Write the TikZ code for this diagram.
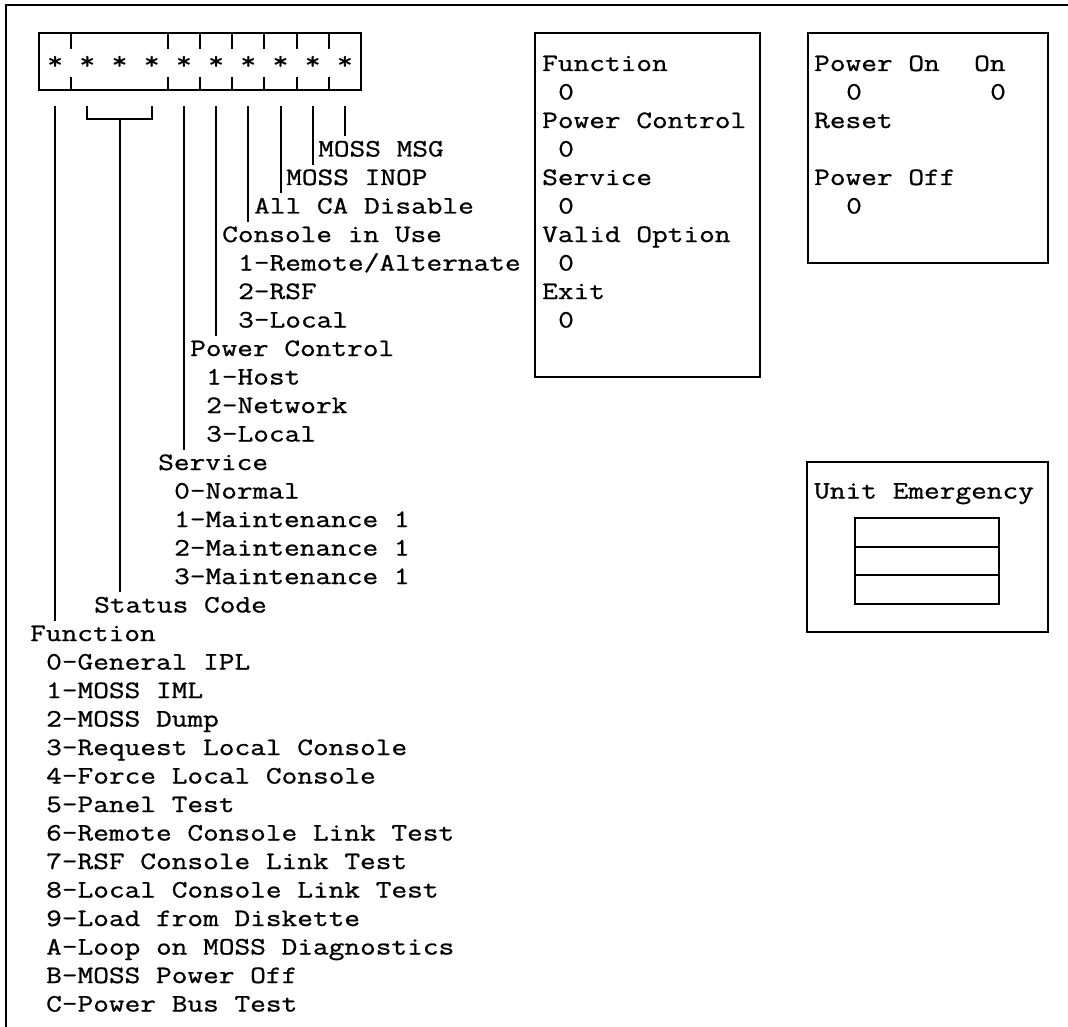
\documentclass[tikz,border=0pt]{standalone}
\usepackage{fontspec}
\newfontfamily\panelfont{Latin Modern Mono}[FakeStretch=1.219,FakeBold=0.9]
\usetikzlibrary{positioning}

\begin{document}
\begin{tikzpicture}[
  x=1pt, y=-1pt,
  rule/.style={line width=2pt},
  panel/.style={
    draw,
    rule,
    anchor=north west,
    inner sep=0pt,
    outer sep=0pt
  },
  lbl/.style={
    anchor=base west,
    inner sep=0pt,
    text height=20pt,
    font=\panelfont\fontsize{25pt}{28.5pt}\selectfont
  },
  lamp/.style={lbl,anchor=base}
]
  \useasboundingbox (0,0) rectangle (1068,1027);
  \draw[rule] (6,1027) -- (6,5) -- (1068,5);

  \node[panel,minimum width=322,minimum height=57] (reg) at (39,33) {};
  \foreach \k in {1,4,5,6,7,8,9} {
    \draw[rule] ({39+32.2*\k},33) -- ++(0,16);
    \draw[rule] ({39+32.2*\k},90) -- ++(0,-13);
  }
  \foreach \k in {0,...,9} {
    \node[lamp] (s\k) at ({39+32.2*(\k+0.5)},69) {*};
    \coordinate (d\k) at ({39+32.2*(\k+0.5)},106);
  }

  \node[panel,minimum width=225,minimum height=344] (funcbox) at (535,33) {};
  \node[panel,minimum width=240,minimum height=230] (powerbox) at (808,33) {};
  \node[panel,minimum width=241,minimum height=170] (emerbox) at (807,462) {};
  \node[panel,minimum width=144,minimum height=28.5] (emer1) at (855,518) {};
  \node[panel,anchor=north,minimum width=144,minimum height=28.5,below=0pt of emer1] (emer2) {};
  \node[panel,anchor=north,minimum width=144,minimum height=28.5,below=0pt of emer2] (emer3) {};

  \begin{scope}[shift={(30,156.5)},x=16pt,y=-28.5pt]
    \node[lbl] (msg) at (18,0) {MOSS MSG};
    \node[lbl] (inop) at (16,1) {MOSS INOP};
    \node[lbl] (allca) at (14,2) {All CA Disable};
    \node[lbl] (cons) at (12,3) {Console in Use};
    \node[lbl] (cons1) at (13,4) {1–Remote/Alternate};
    \node[lbl] (cons2) at (13,5) {2–RSF};
    \node[lbl] (cons3) at (13,6) {3–Local};
    \node[lbl] (pwr) at (10,7) {Power Control};
    \node[lbl] (pwr1) at (11,8) {1–Host};
    \node[lbl] (pwr2) at (11,9) {2–Network};
    \node[lbl] (pwr3) at (11,10) {3–Local};
    \node[lbl] (serv) at (8,11) {Service};
    \node[lbl] (serv0) at (9,12) {0–Normal};
    \node[lbl] (serv1) at (9,13) {1–Maintenance 1};
    \node[lbl] (serv2) at (9,14) {2–Maintenance 1};
    \node[lbl] (serv3) at (9,15) {3–Maintenance 1};
    \node[lbl] (stat) at (4,16) {Status Code};
    \node[lbl] (func) at (0,17) {Function};
    \foreach \t [count=\i] in {0–General IPL, 1–MOSS IML, 2–MOSS Dump,
        3–Request Local Console, 4–Force Local Console, 5–Panel Test,
        6–Remote Console Link Test, 7–RSF Console Link Test,
        8–Local Console Link Test, 9–Load from Diskette,
        A–Loop on MOSS Diagnostics, B–MOSS Power Off, C–Power Bus Test}
      \node[lbl] (fn\i) at (1,{17+\i}) {\t};

    \node[lbl] (mfunc) at (32,-3) {Function};
    \node[lbl] (mfunc0) at (33,-2) {0};
    \node[lbl] (mpwr) at (32,-1) {Power Control};
    \node[lbl] (mpwr0) at (33,0) {0};
    \node[lbl] (mserv) at (32,1) {Service};
    \node[lbl] (mserv0) at (33,2) {0};
    \node[lbl] (mvalid) at (32,3) {Valid Option};
    \node[lbl] (mvalid0) at (33,4) {0};
    \node[lbl] (mexit) at (32,5) {Exit};
    \node[lbl] (mexit0) at (33,6) {0};

    \node[lbl] (pon) at (49,-3) {Power On};
    \node[lbl] (on) at (59,-3) {On};
    \node[lbl] (pon0) at (51,-2) {0};
    \node[lbl] (on0) at (60,-2) {0};
    \node[lbl] (reset) at (49,-1) {Reset};
    \node[lbl] (poff) at (49,1) {Power Off};
    \node[lbl] (poff0) at (51,2) {0};

    \node[lbl] (emer) at (49,12) {Unit Emergency};
  \end{scope}

  \draw[rule] (d0) -- (d0 |- func.north);
  \draw[rule] (d1) |- ([yshift=-13pt]d3) -- (d3);
  \draw[rule] ([yshift=-13pt]d2) -- (d2 |- stat.north);
  \draw[rule] (d4) -- (d4 |- serv.north);
  \draw[rule] (d5) -- (d5 |- pwr.north);
  \draw[rule] (d6) -- (d6 |- cons.north);
  \draw[rule] (d7) -- (d7 |- allca.north);
  \draw[rule] (d8) -- (d8 |- inop.north);
  \draw[rule] (d9) -- (d9 |- msg.north);
\end{tikzpicture}
\end{document}
